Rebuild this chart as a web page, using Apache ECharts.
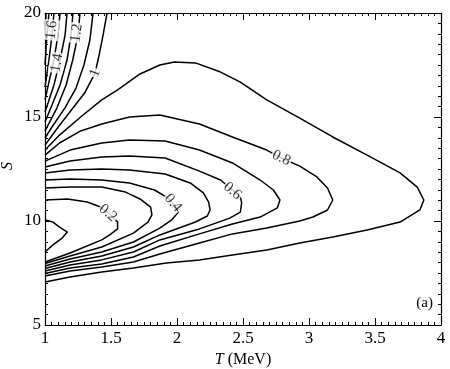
<!DOCTYPE html>
<html>
<head>
<meta charset="utf-8">
<script src="https://cdn.jsdelivr.net/npm/echarts/dist/echarts.min.js"></script>
<style>
  html,body{margin:0;padding:0;background:#fff}
  .demo{width:450px;height:369px}
</style>
</head>
<body>
<div class="demo"></div>
<script>
// contour lines, [T (MeV), S]
const c01 = [[1,10.05],[1.06,9.95],[1.11,9.71],[1.17,9.47],[1.13,9.18],[1.06,8.85],[1,8.51]]
const c02 = [[1,11.01],[1.17,11.06],[1.32,10.91],[1.42,10.67],[1.49,10.34],[1.55,9.95],[1.55,9.62],[1.49,9.33],[1.43,9.09],[1.19,8.46],[1,8.03]]
const c03 = [[1,11.59],[1.19,11.63],[1.43,11.63],[1.61,11.39],[1.72,11.06],[1.80,10.67],[1.81,10.29],[1.78,9.95],[1.67,9.42],[1.43,8.75],[1.19,8.32],[1,7.96]]
const c04 = [[1,11.97],[1.19,12.02],[1.43,11.97],[1.64,11.83],[1.83,11.49],[1.93,11.11],[1.98,10.77],[2.01,10.43],[1.96,10.05],[1.87,9.66],[1.67,8.99],[1.43,8.51],[1.19,8.17],[1,7.84]]
const c05 = [[1,12.31],[1.19,12.45],[1.43,12.50],[1.64,12.45],[1.91,12.26],[2.10,11.83],[2.20,11.35],[2.24,10.91],[2.25,10.53],[2.23,10.24],[2.14,9.95],[1.87,9.33],[1.67,8.75],[1.43,8.32],[1.19,8.03],[1,7.72]]
const c06 = [[1,12.60],[1.19,12.88],[1.43,13.08],[1.64,13.12],[1.91,13.03],[2.17,12.40],[2.33,11.97],[2.42,11.49],[2.48,11.15],[2.49,10.87],[2.48,10.43],[2.40,10.14],[2.17,9.62],[1.87,9.09],[1.67,8.51],[1.43,8.13],[1.19,7.88],[1,7.60]]
const c07 = [[1,12.88],[1.19,13.41],[1.43,13.75],[1.64,13.89],[1.91,13.85],[2.17,13.41],[2.42,12.79],[2.63,11.97],[2.73,11.49],[2.78,11.01],[2.76,10.63],[2.63,10.19],[2.42,9.86],[2.17,9.38],[1.87,8.80],[1.67,8.27],[1.43,7.93],[1.19,7.74],[1,7.48]]
const c08 = [[1,13.17],[1.11,13.75],[1.27,14.33],[1.43,14.66],[1.64,15.00],[1.87,15.10],[2.17,14.66],[2.42,14.04],[2.68,13.41],[2.79,13.03],[2.93,12.64],[3.06,12.12],[3.14,11.59],[3.18,11.01],[3.14,10.53],[3.03,10.19],[2.93,10.00],[2.68,9.66],[2.42,9.38],[2.17,8.94],[1.87,8.41],[1.67,8.03],[1.43,7.79],[1.19,7.60],[1,7.36]]
const c09 = [[1,13.41],[1.11,14.13],[1.27,15.00],[1.43,15.82],[1.55,16.30],[1.72,17.07],[1.87,17.50],[1.98,17.64],[2.14,17.60],[2.33,17.16],[2.48,16.68],[2.68,15.82],[2.93,14.95],[3.18,14.04],[3.44,13.17],[3.69,12.31],[3.82,11.63],[3.87,11.01],[3.84,10.53],[3.69,9.95],[3.44,9.57],[3.18,9.23],[2.93,8.94],[2.68,8.61],[2.42,8.37],[2.17,8.13],[1.92,7.98],[1.67,7.74],[1.43,7.55],[1.19,7.31],[1,7.07]]
const c10 = [[1.47,20],[1.44,18.94],[1.41,17.98],[1.38,17.12],[1.30,16.15],[1.20,15.34],[1.10,14.52],[1,13.65]]
const c11 = [[1.364,20],[1.34,18.70],[1.295,17.5],[1.235,16.39],[1.15,15.43],[1.053,14.52],[1,13.99]]
const c12 = [[1.265,20],[1.25,18.94],[1.21,17.74],[1.16,16.54],[1.09,15.43],[1.02,14.57],[1,14.33]]
const c13 = [[1.212,20],[1.197,18.94],[1.167,17.74],[1.114,16.54],[1.053,15.58],[1,14.76]]
const c14 = [[1.167,20],[1.152,18.94],[1.114,17.74],[1.068,16.54],[1.023,15.67],[1,15.24]]
const c15 = [[1.114,20],[1.098,18.94],[1.068,17.74],[1.03,16.68],[1,15.82]]
const c16 = [[1.068,20],[1.053,18.94],[1.03,17.74],[1.008,16.78],[1,16.44]]
const c17 = [[1.03,20],[1.015,18.94],[1,17.5]]
const c18 = [[1.008,20],[1,18.94]]

const labelText = ['0.2','0.4','0.6','0.8','1','1.2','1.4','1.6']
const labelPos = [[1.477,10.38],[1.97,10.87],[2.42,11.44],[2.79,13.03],[1.38,17.12],[1.24,19.04],[1.09,17.6],[1.05,19.18]]
const labelAngle = [-40,-50,-40,-26,70,82,80,84]

const xTicks = [1,1.5,2,2.5,3,3.5,4]
const yTicks = [5,10,15,20]

;(function(){
  const chartinstance = echarts.init(document.querySelector('.demo'))
  const serif = 'Liberation Serif'
  const lines = [c01,c02,c03,c04,c05,c06,c07,c08,c09,c10,c11,c12,c13,c14,c15,c16,c17,c18]
  const series = lines.map(d => ({
    type:'line',
    data:d,
    showSymbol:false,
    silent:true,
    lineStyle:{color:'#000',width:1.5},
    z:2
  }))
  series.push({
    type:'scatter',
    symbolSize:0,
    silent:true,
    z:5,
    data:labelPos.map((p,i) => ({
      value:[p[0],p[1]],
      label:{rotate:labelAngle[i],formatter:labelText[i]}
    })),
    label:{
      show:true,
      position:'inside',
      color:'#000',
      fontFamily:serif,
      fontSize:15,
      backgroundColor:'#fff',
      padding:[0,1]
    }
  })
  const baseAxis = {
    min:xTicks[0],
    max:xTicks[xTicks.length-1],
    interval:0.5,
    axisLine:{lineStyle:{color:'#000',width:1.2}},
    axisTick:{inside:true,length:7,lineStyle:{color:'#000'}},
    minorTick:{show:true,splitNumber:10,length:3,lineStyle:{color:'#000'}},
    splitLine:{show:false}
  }
  const yBase = Object.assign({}, baseAxis, {min:yTicks[0], max:yTicks[yTicks.length-1], interval:5})
  const option = {
    animation:false,
    backgroundColor:'#fff',
    grid:{left:45,right:9,top:13,bottom:44,containLabel:false,outerBoundsMode:'none'},
    xAxis:[
      Object.assign({}, baseAxis, {
        type:'value',
        position:'bottom',
        axisLabel:{color:'#000',fontFamily:serif,fontSize:17,margin:5},
        name:'{i|T} (MeV)',
        nameLocation:'middle',
        nameGap:27,
        nameTextStyle:{color:'#000',fontFamily:serif,fontSize:16,rich:{i:{fontStyle:'italic',fontFamily:serif,fontSize:16,color:'#000'}}}
      }),
      Object.assign({}, baseAxis, {type:'value',position:'top',axisLabel:{show:false}})
    ],
    yAxis:[
      Object.assign({}, yBase, {
        type:'value',
        position:'left',
        axisLabel:{color:'#000',fontFamily:serif,fontSize:17,margin:4}
      }),
      Object.assign({}, yBase, {type:'value',position:'right',axisLabel:{show:false}})
    ],
    graphic:[{
      type:'text',
      right:17,
      top:296,
      style:{text:'(a)',font:'15px "Liberation Serif"',fill:'#000'}
    },{
      type:'text',
      x:8,
      y:166,
      rotation:Math.PI/2,
      style:{text:'S',font:'italic 16px "Liberation Serif"',fill:'#000',align:'center',verticalAlign:'middle'}
    }],
    series:series
  }
  option && chartinstance.setOption(option)
  window.addEventListener('resize',()=>{
    chartinstance.resize();
  })
})();
</script>
</body>
</html>
